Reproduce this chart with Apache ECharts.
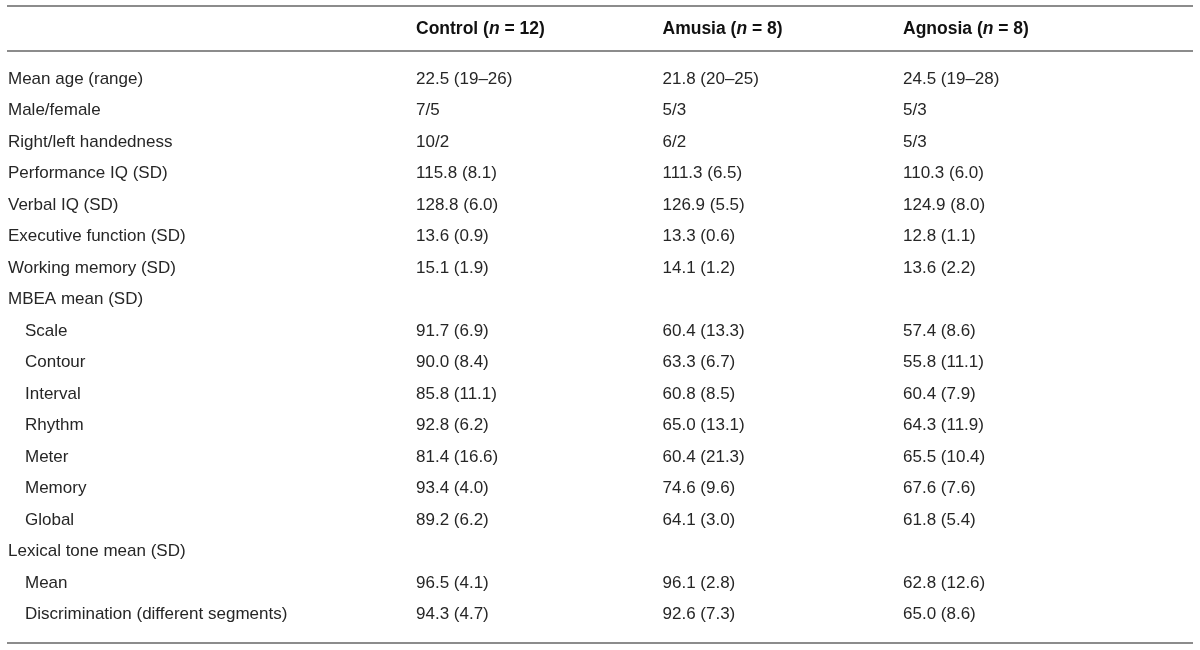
<!DOCTYPE html>
<html>
<head>
<meta charset="utf-8">
<title>Participant characteristics</title>
<script src="https://cdn.jsdelivr.net/npm/echarts@6/dist/echarts.min.js"></script>
<style>
    html, body { margin: 0; padding: 0; background: #fff; }
    #canvas { width: 1200px; height: 650px; }
</style>
</head>
<body>
<div id="canvas"></div>
<script type="text/javascript">
    // 表格数据
    var groups = ['Control', 'Amusia', 'Agnosia'];
    var groupN = [12, 8, 8];
    var rowLabels = [
        'Mean age (range)', 'Male/female', 'Right/left handedness',
        'Performance IQ (SD)', 'Verbal IQ (SD)', 'Executive function (SD)',
        'Working memory (SD)', 'MBEA mean (SD)',
        'Scale', 'Contour', 'Interval', 'Rhythm', 'Meter', 'Memory', 'Global',
        'Lexical tone mean (SD)',
        'Mean', 'Discrimination (different segments)'
    ];
    var rowIndent = [0, 0, 0, 0, 0, 0, 0, 0, 1, 1, 1, 1, 1, 1, 1, 0, 1, 1];
    var control = [
        '22.5 (19–26)', '7/5', '10/2', '115.8 (8.1)', '128.8 (6.0)', '13.6 (0.9)',
        '15.1 (1.9)', '',
        '91.7 (6.9)', '90.0 (8.4)', '85.8 (11.1)', '92.8 (6.2)', '81.4 (16.6)', '93.4 (4.0)', '89.2 (6.2)',
        '',
        '96.5 (4.1)', '94.3 (4.7)'
    ];
    var amusia = [
        '21.8 (20–25)', '5/3', '6/2', '111.3 (6.5)', '126.9 (5.5)', '13.3 (0.6)',
        '14.1 (1.2)', '',
        '60.4 (13.3)', '63.3 (6.7)', '60.8 (8.5)', '65.0 (13.1)', '60.4 (21.3)', '74.6 (9.6)', '64.1 (3.0)',
        '',
        '96.1 (2.8)', '92.6 (7.3)'
    ];
    var agnosia = [
        '24.5 (19–28)', '5/3', '5/3', '110.3 (6.0)', '124.9 (8.0)', '12.8 (1.1)',
        '13.6 (2.2)', '',
        '57.4 (8.6)', '55.8 (11.1)', '60.4 (7.9)', '64.3 (11.9)', '65.5 (10.4)', '67.6 (7.6)', '61.8 (5.4)',
        '',
        '62.8 (12.6)', '65.0 (8.6)'
    ];
    var columns = [control, amusia, agnosia];

    var FONT = 'Liberation Sans, Arial, sans-serif';
    var TEXT = '#262626';
    var RULE = '#8c8c8c';
    var colShift = [0, 3, 0]; // 中间列略微右移

    // 每组一列，文字用散点标签画
    var series = columns.map(function (col, c) {
        var data = [];
        col.forEach(function (s, r) {
            if (s !== '') {
                data.push({ name: s, value: [c, r] });
            }
        });
        return {
            name: groups[c],
            type: 'scatter',
            symbolSize: 0,
            itemStyle: { color: TEXT, opacity: 1 },
            silent: true,
            label: {
                show: true,
                position: 'right',
                distance: 0,
                offset: [colShift[c], 0],
                formatter: '{b}',
                fontFamily: FONT,
                fontSize: 17,
                color: TEXT,
                opacity: 1
            },
            data: data
        };
    });

    var Dom = document.querySelector('#canvas');
    var myChart = echarts.init(Dom);
    var option = {
        animation: false,
        backgroundColor: '#fff',
        grid: {
            left: 416,
            right: 297,
            top: 63.25,
            height: 567
        },
        xAxis: {
            type: 'category',
            position: 'top',
            data: groups,
            boundaryGap: false,
            axisLine: { show: false },
            axisTick: { show: false },
            splitLine: { show: false },
            axisLabel: {
                interval: 0,
                align: 'left',
                margin: 25,
                formatter: function (value, idx) {
                    var pre = colShift[idx] ? '{p|}' : '';
                    return pre + '{b|' + value + ' (}{i|n}{b| = ' + groupN[idx] + ')}';
                },
                rich: {
                    p: { width: 3 },
                    b: { fontFamily: FONT, fontSize: 17.5, fontWeight: 'bold', color: '#111' },
                    i: { fontFamily: FONT, fontSize: 17.5, fontWeight: 'bold', fontStyle: 'italic', color: '#111' }
                }
            }
        },
        yAxis: {
            type: 'category',
            data: rowLabels,
            inverse: true,
            axisLine: { show: false },
            axisTick: { show: false },
            splitLine: { show: false },
            axisLabel: {
                interval: 0,
                align: 'left',
                margin: 408,
                formatter: function (value, idx) {
                    return rowIndent[idx] ? '{sub|' + value + '}' : '{top|' + value + '}';
                },
                rich: {
                    top: { fontFamily: FONT, fontSize: 17, color: TEXT },
                    sub: { fontFamily: FONT, fontSize: 17, color: TEXT, padding: [0, 0, 0, 17] }
                }
            }
        },
        // 表格横线
        graphic: [
            { type: 'line', shape: { x1: 7, y1: 6, x2: 1193, y2: 6 }, style: { stroke: RULE, lineWidth: 2 } },
            { type: 'line', shape: { x1: 7, y1: 51, x2: 1193, y2: 51 }, style: { stroke: RULE, lineWidth: 2 } },
            { type: 'line', shape: { x1: 7, y1: 643, x2: 1193, y2: 643 }, style: { stroke: RULE, lineWidth: 2 } }
        ],
        series: series
    };
    myChart.setOption(option);
</script>
</body>
</html>
